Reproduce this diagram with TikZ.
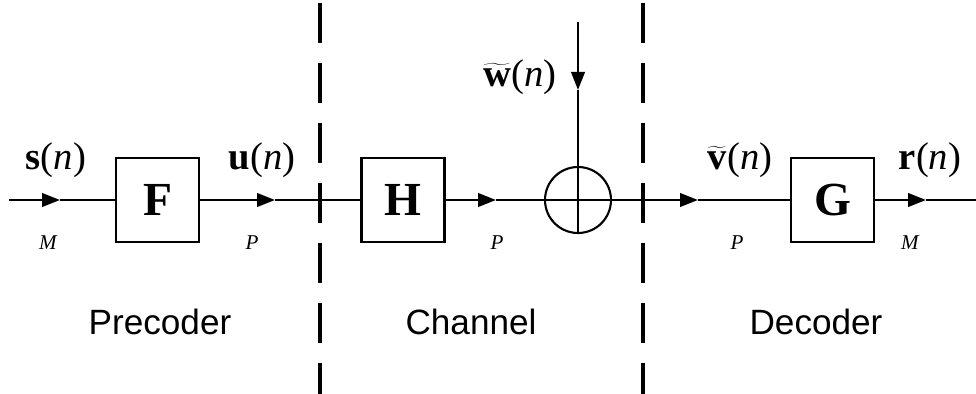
\documentclass[tikz,border=0pt]{standalone}
\usepackage{fontspec}
\setmainfont{Liberation Serif}
\newfontfamily\partfont{Liberation Sans}
\usetikzlibrary{arrows.meta,positioning,calc}

\begin{document}
\begin{tikzpicture}[x=0.02cm, y=-0.02cm,
    blk/.style = {draw, line width=1.2pt, minimum width=1.66cm, minimum height=1.68cm, inner sep=0pt, font=\fontsize{27}{30}\selectfont\bfseries},
    sig/.style = {line width=1.4pt},
    sigarrow/.style = {line width=1.4pt, -{Triangle[length=0.36cm, width=0.27cm]}},
    sep/.style = {line width=2.2pt, dash pattern=on 0.8cm off 0.4cm},
    vec/.style = {font=\fontsize{22}{24}\selectfont},
    dim/.style = {font=\fontsize{12}{14}\selectfont\itshape},
    part/.style = {font=\partfont\fontsize{20}{23}\selectfont}]
    \useasboundingbox (0,0) rectangle (976,394);
    % blocks
    \node[blk] (F) at (157.5,200) {F};
    \node[blk] (H) at (403,200) {H};
    \node[blk] (G) at (832.5,200) {G};
    \node[draw, circle, line width=1.2pt, minimum size=1.32cm, inner sep=0pt] (sum) at (578,200) {};
    % ends and arrow tips
    \coordinate (in) at (9,200);
    \coordinate (out) at (976,200);
    \coordinate (a1) at (60,200);
    \coordinate (a2) at (275,200);
    \coordinate (a3) at (496,200);
    \coordinate (a4) at (698,200);
    \coordinate (a5) at (926,200);
    \coordinate (wtop) at (578,22);
    \coordinate (a6) at (578,90);
    % signal path
    \draw[sigarrow] (in) -- (a1);
    \draw[sig] (a1) -- (F);
    \draw[sigarrow] (F) -- (a2);
    \draw[sig] (a2) -- (H);
    \draw[sigarrow] (H) -- (a3);
    \draw[sig] (a3) -- (sum.west);
    \draw[sigarrow] (sum.east) -- (a4);
    \draw[sig] (a4) -- (G);
    \draw[sigarrow] (G) -- (a5);
    \draw[sig] (a5) -- (out);
    % noise
    \draw[sigarrow] (wtop) -- (a6);
    \draw[sig] (a6) -- (sum.north);
    \draw[line width=1.1pt] (sum.north) -- (sum.south);
    \draw[line width=1.1pt] (sum.west) -- (sum.east);
    % separators
    \draw[sep] (320,3) -- (320,394);
    \draw[sep] (643,3) -- (643,394);
    % signal labels
    \node[vec] (s) at (56,160) {\textbf{s}(\textit{n})};
    \node[vec] (u) at (262,160) {\textbf{u}(\textit{n})};
    \node[vec] (w) at (520,77) {{\boldmath$\widetilde{\textbf{w}}$}(\textit{n})};
    \node[vec] (v) at (740,160) {{\boldmath$\widetilde{\textbf{v}}$}(\textit{n})};
    \node[vec] (r) at (930,160) {\textbf{r}(\textit{n})};
    % dimensions
    \node[dim] (d1) at (48,243) {M};
    \node[dim] (d2) at (252,243) {P};
    \node[dim] (d3) at (497,243) {P};
    \node[dim] (d4) at (737,243) {P};
    \node[dim] (d5) at (910,243) {M};
    % parts
    \node[part] (pre) at (160,322) {Precoder};
    \node[part] (ch) at (471,322) {Channel};
    \node[part] (dec) at (816,322) {Decoder};
\end{tikzpicture}
\end{document}
